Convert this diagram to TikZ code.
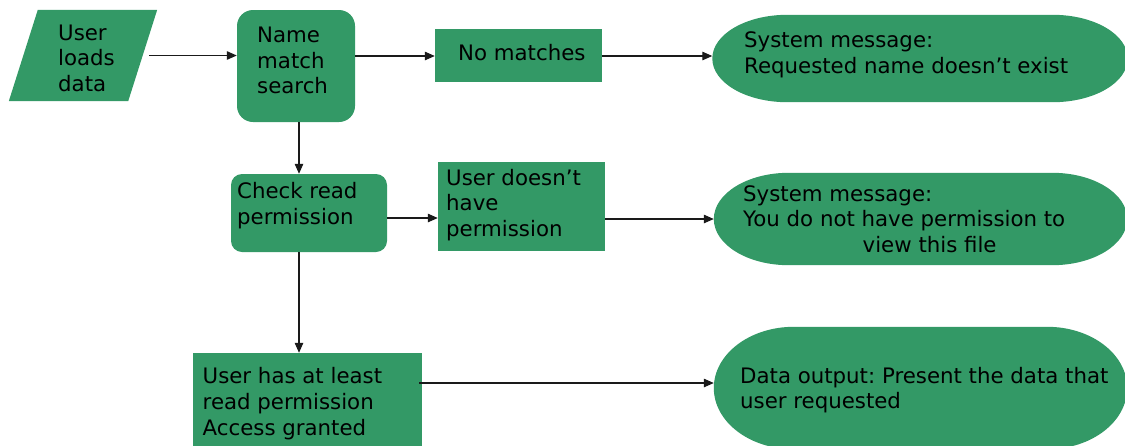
\documentclass[tikz,border=0pt]{standalone}
\usepackage{fontspec}
\setmainfont{DejaVu Sans}
\usetikzlibrary{arrows.meta,calc}
\definecolor{gfill}{HTML}{339966}
\definecolor{lin}{HTML}{1A1A1A}
\frenchspacing
\begin{document}
\begin{tikzpicture}[
  txt/.style={font=\fontsize{21.3pt}{25.5pt}\selectfont, align=left, inner sep=0pt, anchor=base west, text=black},
  area/.style={rectangle, inner sep=0pt, minimum width=#1},
  sq/.style={rectangle, inner sep=0pt, fill=gfill},
  rbox/.style={rectangle, inner sep=0pt, fill=gfill, rounded corners=#1},
  conn/.style={line width=1.2pt, draw=lin, -{Triangle[length=10pt,width=8.5pt]}},
]
\useasboundingbox (0,0) rectangle (1125pt,-445pt);
\clip (0,0) rectangle (1125pt,-445pt);

% shapes
\node[area=148pt, minimum height=91pt] (load) at (83pt,-55.5pt) {};
\fill[gfill] ([xshift=29pt]load.north west) -- (load.north east)
  -- ([xshift=-29pt]load.south east) -- (load.south west) -- cycle;
\node[rbox=16pt, minimum width=118pt, minimum height=112pt] (name) at (296pt,-66pt) {};
\node[sq, minimum width=167pt, minimum height=53pt] (nomatch) at (518.5pt,-55.5pt) {};
\node[area=415pt, minimum height=87pt] (e1) at (920pt,-58.5pt) {};
\node[rbox=11pt, minimum width=156pt, minimum height=78pt] (check) at (309pt,-213pt) {};
\node[sq, minimum width=167pt, minimum height=89pt] (nohave) at (521.5pt,-206.5pt) {};
\node[area=413pt, minimum height=92pt] (e2) at (920.5pt,-219pt) {};
\node[sq, minimum width=229pt, minimum height=97pt] (has) at (307.5pt,-401.5pt) {};
\node[area=413pt, minimum height=122pt] (e3) at (920.5pt,-388pt) {};

\foreach \e/\rx in {e1/75pt,e2/75pt,e3/80pt}{
  \path let \p1=(\e.north west), \p2=(\e.south east) in
    \pgfextra{\pgfmathsetlengthmacro{\ry}{(\y1-\y2)/2}}
    [fill=gfill] (\x1+\rx,\y1) -- (\x2-\rx,\y1)
    arc[start angle=90,end angle=-90,x radius=\rx,y radius=\ry]
    -- (\x1+\rx,\y2)
    arc[start angle=270,end angle=90,x radius=\rx,y radius=\ry] -- cycle;
}

% texts (anchor = baseline of the last line)
\node[txt] (tload) at (58pt,-91pt) {User\\loads\\data};
\node[txt] (tname) at (257pt,-93.5pt) {Name\\match\\search};
\node[txt] (tnomatch) at (458pt,-60pt) {No matches};
\node[txt] (te1) at (744pt,-73pt) {System message:\\Requested name doesn’t exist};
\node[txt] (tcheck) at (237pt,-224pt) {Check read\\permission};
\node[txt] (tnohave) at (446pt,-236pt) {User doesn’t\\have\\permission};
\node[txt] (te2) at (743pt,-252pt) {System message:\\You do not have permission to\\\hspace*{119.5pt}view this file};
\node[txt, font=\fontsize{21.3pt}{26pt}\selectfont] (thas) at (202.5pt,-435pt) {User has at least\\read permission\\Access granted};
\node[txt] (te3) at (740pt,-408.5pt) {Data output: Present the data that\\user requested};

% connectors
\coordinate (r1) at (0,-56pt);
\coordinate (r2) at (0,-218pt);
\coordinate (r2b) at (0,-219pt);
\coordinate (r3) at (0,-383pt);
\coordinate (vx) at (299pt,0);
\draw[conn] ([xshift=-8pt]load.east) -- (name.west |- load.east);
\draw[conn] (name.east |- r1) -- (nomatch.west |- r1);
\draw[conn] (nomatch.east |- r1) -- (e1.west |- r1);
\draw[conn] (name.south -| vx) -- (check.north -| vx);
\draw[conn] (check.east |- r2) -- (nohave.west |- r2);
\draw[conn] (nohave.east |- r2b) -- (e2.west |- r2b);
\draw[conn] (check.south -| vx) -- (has.north -| vx);
\draw[conn] ([xshift=-3pt]has.east |- r3) -- (e3.west |- r3);
\end{tikzpicture}
\end{document}
